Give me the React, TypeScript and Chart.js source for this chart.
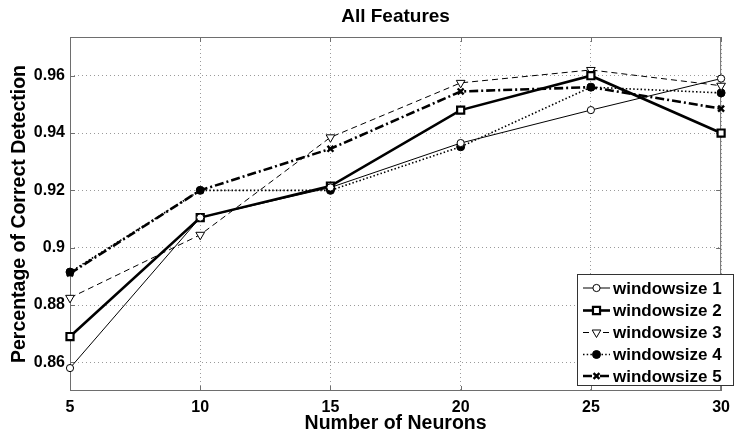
import React, { useEffect, useRef } from 'react';
import { Chart, registerables } from 'chart.js';
import { drawPoint } from 'chart.js/helpers';

Chart.register(...registerables);

const neurons = [5, 10, 15, 20, 25, 30];
const ws1 = [0.858, 0.9105, 0.921, 0.9365, 0.948, 0.959];
const ws2 = [0.869, 0.9105, 0.9215, 0.948, 0.960, 0.940];
const ws3 = [0.8825, 0.9045, 0.9385, 0.9575, 0.962, 0.9565];
const ws4 = [0.8915, 0.920, 0.920, 0.9352, 0.956, 0.954];
const ws5 = [0.891, 0.920, 0.9345, 0.9545, 0.956, 0.9485];
const seriesLabels = ['windowsize 1', 'windowsize 2', 'windowsize 3', 'windowsize 4', 'windowsize 5'];

const xTicks = [5, 10, 15, 20, 25, 30];
const yTicks = [0.86, 0.88, 0.9, 0.92, 0.94, 0.96];
const yTickLabels = ['0.86', '0.88', '0.9', '0.92', '0.94', '0.96'];
const chartTitle = 'All Features';
const xTitle = 'Number of Neurons';
const yTitle = 'Percentage of Correct Detection';

const FONT = "Arial, 'Liberation Sans', sans-serif";

type Style = {
  borderWidth: number;
  dash: number[];
  pointStyle: string;
  radius: number;
  rotation: number;
  fill: string;
  pointBorderWidth: number;
};

const styles: Style[] = [
  { borderWidth: 1, dash: [], pointStyle: 'circle', radius: 3.6, rotation: 0, fill: '#fff', pointBorderWidth: 1 },
  { borderWidth: 2.6, dash: [], pointStyle: 'rect', radius: 5, rotation: 0, fill: '#fff', pointBorderWidth: 2.2 },
  { borderWidth: 1, dash: [6, 4], pointStyle: 'triangle', radius: 5, rotation: 180, fill: '#fff', pointBorderWidth: 1 },
  { borderWidth: 1.6, dash: [1.5, 2.2], pointStyle: 'circle', radius: 4, rotation: 0, fill: '#000', pointBorderWidth: 1 },
  { borderWidth: 2.6, dash: [9, 3, 2, 3], pointStyle: 'crossRot', radius: 4.2, rotation: 0, fill: '#000', pointBorderWidth: 2.4 },
];

const seriesValues = [ws1, ws2, ws3, ws4, ws5];

const framePlugin = {
  id: 'frame',
  beforeDatasetsDraw(chart: any) {
    const { ctx, chartArea: a, scales } = chart;
    ctx.save();
    ctx.strokeStyle = '#6e6e6e';
    ctx.lineWidth = 1;
    ctx.setLineDash([]);
    ctx.strokeRect(a.left + 0.5, a.top + 0.5, a.right - a.left - 1, a.bottom - a.top - 1);
    const tl = 5;
    ctx.beginPath();
    for (const v of xTicks) {
      const px = Math.round(scales.x.getPixelForValue(v)) + 0.5;
      ctx.moveTo(px, a.bottom);
      ctx.lineTo(px, a.bottom - tl);
      ctx.moveTo(px, a.top);
      ctx.lineTo(px, a.top + tl);
    }
    for (const v of yTicks) {
      const py = Math.round(scales.y.getPixelForValue(v)) + 0.5;
      ctx.moveTo(a.left, py);
      ctx.lineTo(a.left + tl, py);
      ctx.moveTo(a.right, py);
      ctx.lineTo(a.right - tl, py);
    }
    ctx.stroke();
    ctx.restore();
  },
  afterDatasetsDraw(chart: any) {
    const { ctx, chartArea: a } = chart;
    ctx.save();
    // title
    ctx.fillStyle = '#000';
    ctx.font = `bold 19px ${FONT}`;
    ctx.textAlign = 'center';
    ctx.textBaseline = 'middle';
    ctx.fillText(chartTitle, (a.left + a.right) / 2, 17);

    // legend
    const bx = 577, by = 274, bw = 157, bh = 112;
    ctx.fillStyle = '#fff';
    ctx.fillRect(bx, by, bw, bh);
    ctx.strokeStyle = '#333';
    ctx.lineWidth = 1;
    ctx.strokeRect(bx + 0.5, by + 0.5, bw - 1, bh - 1);
    const rowY = [288, 310.5, 332.5, 354.5, 376];
    seriesLabels.forEach((lab, i) => {
      const s = styles[i];
      const y = rowY[i];
      ctx.save();
      ctx.strokeStyle = '#000';
      ctx.lineWidth = s.borderWidth;
      ctx.setLineDash(s.dash);
      ctx.beginPath();
      ctx.moveTo(583, y);
      ctx.lineTo(610, y);
      ctx.stroke();
      ctx.setLineDash([]);
      ctx.fillStyle = s.fill;
      ctx.strokeStyle = '#000';
      ctx.lineWidth = s.pointBorderWidth;
      drawPoint(ctx, { pointStyle: s.pointStyle as any, rotation: s.rotation, radius: s.radius, borderWidth: s.pointBorderWidth }, 596.5, y);
      ctx.restore();
      ctx.fillStyle = '#000';
      ctx.font = `bold 17px ${FONT}`;
      ctx.textAlign = 'left';
      ctx.textBaseline = 'middle';
      ctx.fillText(lab, 613, y + 1);
    });
    ctx.restore();
  },
};

export default function App() {
  const ref = useRef<HTMLCanvasElement | null>(null);
  useEffect(() => {
    if (!ref.current) return;
    const datasets = seriesValues.map((vals, i) => {
      const s = styles[i];
      return {
        label: seriesLabels[i],
        data: neurons.map((x, j) => ({ x, y: vals[j] })),
        borderColor: '#000',
        backgroundColor: '#000',
        borderWidth: s.borderWidth,
        borderDash: s.dash,
        pointStyle: s.pointStyle,
        pointRadius: s.radius,
        pointRotation: s.rotation,
        pointBackgroundColor: s.fill,
        pointBorderColor: '#000',
        pointBorderWidth: s.pointBorderWidth,
        tension: 0,
        fill: false,
        clip: false as any,
      };
    });
    const chart = new Chart(ref.current, {
      type: 'line',
      data: { datasets: datasets as any },
      options: {
        animation: false,
        responsive: false,
        devicePixelRatio: 1,
        layout: { padding: { top: 37, right: 9, left: 0, bottom: 0 } },
        font: { family: FONT } as any,
        plugins: {
          legend: { display: false },
          tooltip: { enabled: false },
          title: { display: false },
        },
        scales: {
          x: {
            type: 'linear',
            min: 5,
            max: 30,
            afterBuildTicks: (s: any) => { s.ticks = xTicks.map((v) => ({ value: v })); },
            afterFit: (s: any) => { s.height = 44; },
            grid: { color: '#9a9a9a', lineWidth: 1, drawTicks: false },
            border: { display: false, dash: [1, 3] },
            ticks: {
              color: '#000',
              padding: 7,
              maxRotation: 0,
              autoSkip: false,
              font: { family: FONT, size: 16, weight: 'bold' },
              callback: (v: any) => String(v),
            },
            title: {
              display: true,
              text: xTitle,
              color: '#000',
              font: { family: FONT, size: 19.5, weight: 'bold' },
              padding: { top: 0, bottom: 0 },
            },
          },
          y: {
            type: 'linear',
            min: 0.85,
            max: 0.9735,
            afterBuildTicks: (s: any) => { s.ticks = yTicks.map((v) => ({ value: v })); },
            afterFit: (s: any) => { s.width = 70; },
            grid: { color: '#9a9a9a', lineWidth: 1, drawTicks: false },
            border: { display: false, dash: [1, 3] },
            ticks: {
              color: '#000',
              padding: 5,
              autoSkip: false,
              font: { family: FONT, size: 16, weight: 'bold' },
              callback: (v: any) => {
                const i = yTicks.findIndex((t) => Math.abs(t - v) < 1e-6);
                return i >= 0 ? yTickLabels[i] : '';
              },
            },
            title: {
              display: true,
              text: yTitle,
              color: '#000',
              font: { family: FONT, size: 19.5, weight: 'bold' },
              padding: { top: 8, bottom: 0 },
            },
          },
        },
      } as any,
      plugins: [framePlugin],
    });
    return () => chart.destroy();
  }, []);
  return (
    <div style={{ position: 'fixed', left: 0, top: 0, width: 737, height: 435, background: '#fff' }}>
      <canvas ref={ref} width={737} height={435} style={{ width: 737, height: 435, display: 'block' }} />
    </div>
  );
}
